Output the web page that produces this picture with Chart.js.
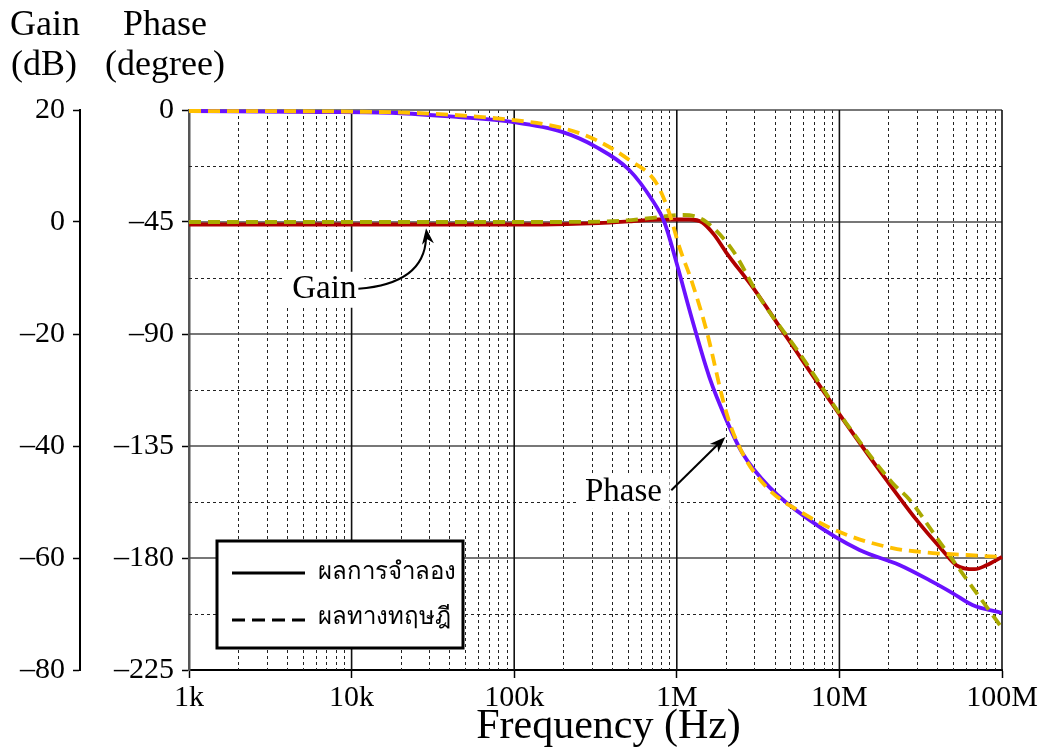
<!DOCTYPE html>
<html><head><meta charset="utf-8">
<script src="https://cdn.jsdelivr.net/npm/chart.js@4.4.0/dist/chart.umd.min.js"></script>
<style>html,body{margin:0;padding:0;background:#fff}#wrap{width:1049px;height:756px;position:relative}</style>
</head><body><div id="wrap"><canvas id="c" width="1049" height="756"></canvas></div>
<script>
// ---- data ----
const freqTicks = [1e3, 1e4, 1e5, 1e6, 1e7, 1e8];
const freqTickLabels = ['1k', '10k', '100k', '1M', '10M', '100M'];
const gainTicks = [20, 0, -20, -40, -60, -80];
const phaseTicks = [0, -45, -90, -135, -180, -225];

const gainSimFreq = [1e3, 1.5e5, 3.3e5, 5.1e5, 7.8e5, 1.19e6, 1.44e6, 1.7e6, 2.02e6, 2.92e6, 4.72e6, 9.6e6, 1.95e7, 2.98e7, 4.3e7, 5.25e7, 6.8e7, 8.0e7, 1e8];
const gainSimDb   = [-0.45, -0.45, -0.2, 0.1, 0.45, 0.45, -0.1, -2.3, -5.5, -11.6, -20.5, -33.6, -46.1, -53.2, -58.6, -61.3, -62.0, -61.3, -59.8];

const gainThFreq = [1e3, 1.64e5, 4.43e5, 6.8e5, 1.08e6, 1.28e6, 1.52e6, 2.2e6, 3.22e6, 5.67e6, 1.1e7, 2.12e7, 2.7e7, 3.95e7, 4.96e7, 6.31e7, 8.03e7, 1e8];
const gainThDb   = [0, 0, 0.2, 0.7, 1.25, 1.05, 0, -5.0, -13.4, -23.4, -35.9, -46.6, -49.6, -56.3, -60.3, -64.5, -68.7, -72.5];

const phaseSimFreq = [1e3, 6.3e3, 1.88e4, 4.4e4, 9.7e4, 1.97e5, 3.2e5, 5.1e5, 7.06e5, 8.38e5, 9.93e5, 1.245e6, 1.585e6, 2.02e6, 2.53e6, 3.71e6, 6.53e6, 1.33e7, 2.34e7, 3.74e7, 4.96e7, 6.58e7, 1e8];
const phaseSimDeg  = [-0.4, -0.8, -1.2, -2.8, -4.8, -8.8, -14.9, -24.1, -36.2, -45, -61.1, -84.4, -107.3, -124.6, -137.8, -151.5, -164.7, -176.8, -182.8, -189.6, -194.1, -198.9, -202.1];

const phaseThFreq = [1e3, 1.48e4, 9.7e4, 1.97e5, 3.2e5, 5.1e5, 7.48e5, 8.99e5, 1.036e6, 1.245e6, 1.52e6, 2.02e6, 2.53e6, 3.56e6, 5.92e6, 1.04e7, 2.12e7, 3.74e7, 6.05e7, 1e8];
const phaseThDeg  = [-0.4, -0.8, -4.0, -7.2, -12.1, -20.1, -29.3, -41.4, -55.0, -69.5, -88.4, -121.7, -137.8, -151.5, -161.9, -170.0, -176.0, -178.0, -178.8, -179.6];

const legendLabels = ['ผลการจำลอง', 'ผลทางทฤษฎี'];
const gainHeader = ['Gain', '(dB)'];
const phaseHeader = ['Phase', '(degree)'];
const xTitle = 'Frequency (Hz)';
const gainNote = 'Gain';
const phaseNote = 'Phase';

// ---- helpers ----
const SERIF = '"Liberation Serif", "Times New Roman", serif';
const zip = (xs, ys) => xs.map((v, i) => ({ x: v, y: ys[i] }));
const fmtTick = v => (v < 0 ? '\u2013' + Math.abs(v) : String(v));
const COLORS = { gainSim: '#b00000', gainTh: '#a9a900', phaseSim: '#6a11ff', phaseTh: '#ffc000' };

function line(ctx, x1, y1, x2, y2) { ctx.beginPath(); ctx.moveTo(x1, y1); ctx.lineTo(x2, y2); ctx.stroke(); }
function arrowHead(ctx, tx, ty, ang, len, wid) {
  ctx.beginPath();
  ctx.moveTo(tx, ty);
  ctx.lineTo(tx - len * Math.cos(ang) + wid * Math.sin(ang), ty - len * Math.sin(ang) - wid * Math.cos(ang));
  ctx.lineTo(tx - len * 0.7 * Math.cos(ang), ty - len * 0.7 * Math.sin(ang));
  ctx.lineTo(tx - len * Math.cos(ang) - wid * Math.sin(ang), ty - len * Math.sin(ang) + wid * Math.cos(ang));
  ctx.closePath(); ctx.fill();
}

// annotation anchors in data units (frequency, gain dB)
const gainNoteAt = { f: 6.8e3, g: -12.1 };
const gainArrowTip = { f: 2.87e4, g: -1.1 };
const phaseNoteAt = { f: 4.7e5, g: -48.2 };
const phaseArrowFrom = { f: 9.25e5, g: -47.9 };
const phaseArrowTip = { f: 1.99e6, p: -131.4 };

const gridPlugin = {
  id: 'gridPlugin',
  beforeDatasetsDraw(chart) {
    const { ctx, chartArea: a, scales: { x, yG } } = chart;
    ctx.save();
    // minor dotted verticals
    ctx.setLineDash([3, 3]); ctx.strokeStyle = '#222'; ctx.lineWidth = 1;
    for (let k = 0; k < freqTicks.length - 1; k++) {
      for (let m = 2; m < 10; m++) {
        const px = Math.round(x.getPixelForValue(m * freqTicks[k])) + 0.5;
        line(ctx, px, a.top, px, a.bottom);
      }
    }
    // minor dotted horizontals (midway between gain ticks)
    for (let k = 0; k < gainTicks.length - 1; k++) {
      const v = (gainTicks[k] + gainTicks[k + 1]) / 2;
      const py = Math.round(yG.getPixelForValue(v)) + 0.5;
      line(ctx, a.left, py, a.right, py);
    }
    ctx.setLineDash([]);
    // major horizontals
    ctx.strokeStyle = '#4a4a4a'; ctx.lineWidth = 1.6;
    for (let k = 0; k < gainTicks.length - 1; k++) {
      const py = yG.getPixelForValue(gainTicks[k]);
      line(ctx, a.left, py, a.right, py);
    }
    // major verticals
    ctx.strokeStyle = '#111'; ctx.lineWidth = 1.6;
    for (let k = 1; k < freqTicks.length; k++) {
      const px = x.getPixelForValue(freqTicks[k]);
      line(ctx, px, a.top, px, a.bottom);
    }
    // note label backgrounds
    ctx.fillStyle = '#fff';
    const gx = x.getPixelForValue(gainNoteAt.f), gy = yG.getPixelForValue(gainNoteAt.g);
    ctx.fillRect(gx - 40, gy - 18, 80, 36);
    const px2 = x.getPixelForValue(phaseNoteAt.f), py2 = yG.getPixelForValue(phaseNoteAt.g);
    ctx.fillRect(px2 - 46, py2 - 17, 92, 34);
    ctx.restore();
  },
  afterDraw(chart) {
    const { ctx, chartArea: a, scales: { x, yG, yP } } = chart;
    ctx.save();
    ctx.fillStyle = '#000'; ctx.strokeStyle = '#000';
    // headers
    ctx.font = '36px ' + SERIF; ctx.textBaseline = 'alphabetic'; ctx.textAlign = 'left';
    ctx.fillText(gainHeader[0], 10, 35);
    ctx.fillText(gainHeader[1], 11, 75);
    ctx.fillText(phaseHeader[0], 123, 35);
    ctx.fillText(phaseHeader[1], 105, 75);
    // x title
    ctx.font = '42px ' + SERIF; ctx.textAlign = 'center'; ctx.textBaseline = 'middle';
    ctx.fillText(xTitle, (a.left + a.right) / 2 + 13, 727);
    // Gain note + curved arrow
    ctx.font = '33px ' + SERIF;
    const gx = x.getPixelForValue(gainNoteAt.f), gy = yG.getPixelForValue(gainNoteAt.g);
    ctx.fillText(gainNote, gx, gy);
    const tipX = x.getPixelForValue(gainArrowTip.f), tipY = yG.getPixelForValue(gainArrowTip.g);
    ctx.lineWidth = 2;
    ctx.beginPath(); ctx.moveTo(gx + 34, gy - 1);
    ctx.quadraticCurveTo(tipX - 2, gy - 6, tipX, tipY + 10); ctx.stroke();
    arrowHead(ctx, tipX, tipY, -Math.PI / 2 - 0.12, 16, 6);
    // Phase note + straight arrow
    const px2 = x.getPixelForValue(phaseNoteAt.f), py2 = yG.getPixelForValue(phaseNoteAt.g);
    ctx.fillText(phaseNote, px2, py2);
    const sx = x.getPixelForValue(phaseArrowFrom.f), sy = yG.getPixelForValue(phaseArrowFrom.g);
    const ex = x.getPixelForValue(phaseArrowTip.f), ey = yP.getPixelForValue(phaseArrowTip.p);
    const ang = Math.atan2(ey - sy, ex - sx);
    ctx.lineWidth = 2;
    line(ctx, sx, sy, ex - 10 * Math.cos(ang), ey - 10 * Math.sin(ang));
    arrowHead(ctx, ex, ey, ang, 16, 6);
    // legend
    const lx = a.left + 28, ly = a.top + 431, lw = 246, lh = 107;
    ctx.fillStyle = '#fff'; ctx.fillRect(lx, ly, lw, lh);
    ctx.lineWidth = 3; ctx.strokeStyle = '#000'; ctx.strokeRect(lx, ly, lw, lh);
    ctx.lineWidth = 3;
    line(ctx, lx + 15, ly + 32, lx + 88, ly + 32);
    ctx.setLineDash([13, 7]);
    line(ctx, lx + 15, ly + 79, lx + 88, ly + 79);
    ctx.setLineDash([]);
    ctx.fillStyle = '#000';
    ctx.font = '24px "Noto Sans", "DejaVu Sans", sans-serif';
    ctx.textAlign = 'left'; ctx.textBaseline = 'middle';
    ctx.fillText(legendLabels[0], lx + 101, ly + 31);
    ctx.fillText(legendLabels[1], lx + 101, ly + 76);
    ctx.restore();
  }
};

const baseDs = { pointRadius: 0, borderWidth: 3.8, fill: false, cubicInterpolationMode: 'monotone', clip: false };

new Chart(document.getElementById('c').getContext('2d'), {
  type: 'line',
  data: {
    datasets: [
      Object.assign({}, baseDs, { label: 'Gain (simulation)', data: zip(gainSimFreq, gainSimDb), yAxisID: 'yG', borderColor: COLORS.gainSim, order: 4 }),
      Object.assign({}, baseDs, { label: 'Phase (simulation)', data: zip(phaseSimFreq, phaseSimDeg), yAxisID: 'yP', borderColor: COLORS.phaseSim, order: 3 }),
      Object.assign({}, baseDs, { label: 'Gain (theory)', data: zip(gainThFreq, gainThDb), yAxisID: 'yG', borderColor: COLORS.gainTh, borderDash: [12, 7], order: 2 }),
      Object.assign({}, baseDs, { label: 'Phase (theory)', data: zip(phaseThFreq, phaseThDeg), yAxisID: 'yP', borderColor: COLORS.phaseTh, borderDash: [12, 7], order: 1 })
    ]
  },
  options: {
    responsive: false, animation: false, devicePixelRatio: 1,
    layout: { padding: { top: 110, right: 47, bottom: 0, left: 0 } },
    plugins: { legend: { display: false }, tooltip: { enabled: false } },
    scales: {
      x: {
        type: 'logarithmic', min: 1e3, max: 1e8, position: 'bottom',
        afterBuildTicks: s => { s.ticks = freqTicks.map(v => ({ value: v })); },
        afterFit: s => { s.height = 86; },
        ticks: {
          autoSkip: false, maxRotation: 0, color: '#000', padding: 2,
          font: { family: SERIF, size: 30 },
          callback: v => freqTickLabels[freqTicks.indexOf(v)]
        },
        grid: { drawOnChartArea: false, drawTicks: true, tickLength: 8, tickColor: '#000', tickWidth: 1.5 },
        border: { display: true, color: '#000', width: 2 }
      },
      yP: {
        type: 'linear', position: 'left', weight: 0, min: -225, max: 0,
        afterBuildTicks: s => { s.ticks = phaseTicks.map(v => ({ value: v })); },
        afterFit: s => { s.width = 109; },
        ticks: { color: '#000', padding: 8, font: { family: SERIF, size: 30 }, callback: fmtTick },
        grid: { drawOnChartArea: false, drawTicks: true, tickLength: 7, tickColor: '#000', tickWidth: 1.5 },
        border: { display: true, color: '#555', width: 2.5 }
      },
      yG: {
        type: 'linear', position: 'left', weight: 1, min: -80, max: 20,
        afterBuildTicks: s => { s.ticks = gainTicks.map(v => ({ value: v })); },
        afterFit: s => { s.width = 80; },
        ticks: { color: '#000', padding: 8, font: { family: SERIF, size: 30 }, callback: fmtTick },
        grid: { drawOnChartArea: false, drawTicks: true, tickLength: 7, tickColor: '#000', tickWidth: 1.5 },
        border: { display: true, color: '#000', width: 2 }
      }
    }
  },
  plugins: [gridPlugin]
});
</script>
</body></html>
